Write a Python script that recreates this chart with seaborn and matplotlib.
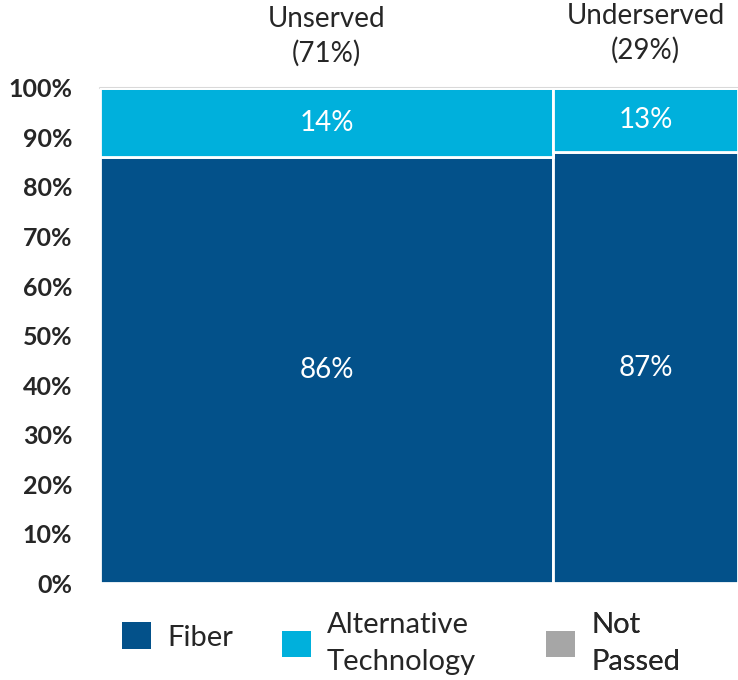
import matplotlib
matplotlib.use("Agg")
import matplotlib.pyplot as plt
from matplotlib.patches import Patch
import seaborn as sns
import pandas as pd

# data
groups = ["Unserved", "Underserved"]
group_share = [71, 29]
technologies = ["Fiber", "Alternative\nTechnology", "Not\nPassed"]
unserved_vals = [86, 14, 0]
underserved_vals = [87, 13, 0]
colors = ["#03518A", "#00B0DC", "#A6A6A6"]

sns.set_theme(style="white")
plt.rcParams["font.family"] = ["Lato", "DejaVu Sans"]

# column edges for the mosaic layout
edges = [0]
for s in group_share:
    edges.append(edges[-1] + s)
mids = [(edges[i] + edges[i + 1]) / 2 for i in range(len(groups))]

rows = []
for g, mid, vals in zip(groups, mids, [unserved_vals, underserved_vals]):
    for t, v in zip(technologies, vals):
        rows.append({"group": g, "x": mid, "tech": t, "share": v})
df = pd.DataFrame(rows)

fig = plt.figure(figsize=(7.38, 6.80), dpi=100)
ax = fig.add_axes([0.1355, 0.1426, 0.8645, 0.728])

# histplot stacks the first hue level on top, so reverse the order
sns.histplot(data=df, x="x", weights="share", hue="tech",
             hue_order=technologies[::-1], palette=colors[::-1],
             bins=edges, multiple="stack", alpha=1,
             edgecolor="white", linewidth=2, legend=False, ax=ax)

ax.set_xlim(edges[0], edges[-1])
ax.set_ylim(0, 100)
ax.set_yticks(range(0, 101, 10))
ax.set_yticklabels([f"{v}%" for v in range(0, 101, 10)], fontsize=18, fontweight="bold")
ax.set_xticks([])
ax.set_xlabel("")
ax.set_ylabel("")
ax.axhline(100, color="#d9d9d9", linewidth=1.5, zorder=0, clip_on=False)
sns.despine(ax=ax, left=True, bottom=True)
ax.tick_params(axis="y", length=0, pad=20)

# segment labels
for mid, vals in zip(mids, [unserved_vals, underserved_vals]):
    base = 0
    for v in vals:
        if v > 0:
            ax.text(mid, base + v / 2, f"{v}%", ha="center", va="center",
                    color="white", fontsize=20)
        base += v

# column headers
header_y = [104.3, 105]
for mid, g, s, hy in zip(mids, groups, group_share, header_y):
    ax.text(mid, hy, f"{g}\n({s}%)", ha="center", va="bottom", fontsize=20,
            linespacing=1.35, clip_on=False)

# legend: one entry per box so the spacing follows the reference
legend_anchors = [(0.165, 0.064), (0.382, 0.054), (0.740, 0.054)]
for c, t, anchor in zip(colors, technologies, legend_anchors):
    leg = ax.legend([Patch(facecolor=c, edgecolor="none")], [t], loc="center left",
                    bbox_to_anchor=anchor, bbox_transform=fig.transFigure,
                    frameon=False, fontsize=21, handlelength=1.0, handleheight=1.0,
                    handletextpad=0.55, borderpad=0, borderaxespad=0,
                    labelspacing=0.2)
    for txt in leg.get_texts():
        txt.set_linespacing(1.5)
    ax.add_artist(leg)

fig.savefig("out.png", dpi=100)
